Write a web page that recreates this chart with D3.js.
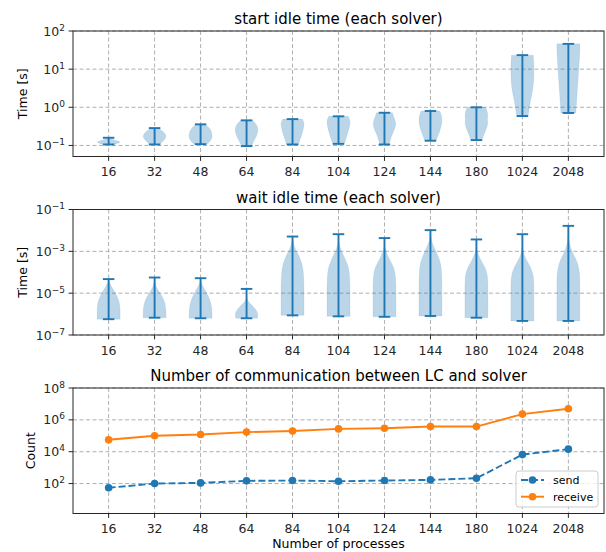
<!DOCTYPE html>
<meta charset="utf-8">
<style>
body { margin: 0; background: #fff; }
svg { display: block; font-family: "DejaVu Sans", sans-serif; }
.grid line { stroke: #b0b0b0; stroke-width: 1; stroke-dasharray: 4,2.5; }
.spine { fill: none; stroke: #262626; stroke-width: 1; }
.tick { stroke: #262626; stroke-width: 1; }
.violin { fill: #1f77b4; fill-opacity: 0.3; stroke: #1f77b4; stroke-opacity: 0.15; stroke-width: 0.6; }
.vline { stroke: #1f77b4; stroke-width: 1.9; fill: none; }
</style>
<svg width="606" height="552"></svg>
<script src="https://cdn.jsdelivr.net/npm/d3@7"></script>
<script>

var categories = ["16", "32", "48", "64", "84", "104", "124", "144", "180", "1024", "2048"];

// start idle time: extremes and violin half-width profile (bottom -> top, log spaced)
var startMin = [0.106, 0.106, 0.108, 0.096, 0.106, 0.11, 0.106, 0.133, 0.138, 0.59, 0.71];
var startMax = [0.159, 0.285, 0.357, 0.455, 0.49, 0.58, 0.72, 0.80, 1.0, 23.3, 46];
var startShape = [
  [0.3, 0.7, 0.95, 1.0, 0.85, 0.6, 0.4, 0.2, 0.05],
  [0.45, 0.6, 0.8, 0.95, 1.0, 0.95, 0.8, 0.6, 0.35],
  [0.55, 0.8, 0.95, 1.0, 1.0, 0.95, 0.85, 0.65, 0.4],
  [0.45, 0.55, 0.7, 0.85, 0.95, 1.0, 0.95, 0.8, 0.5],
  [0.55, 0.6, 0.7, 0.8, 0.88, 0.95, 1.0, 1.0, 0.85],
  [0.5, 0.6, 0.7, 0.8, 0.88, 0.95, 1.0, 1.0, 0.85],
  [0.4, 0.5, 0.6, 0.75, 0.9, 1.0, 0.95, 0.8, 0.7],
  [0.5, 0.6, 0.75, 0.85, 0.95, 1.0, 1.0, 0.95, 0.8],
  [0.5, 0.6, 0.75, 0.9, 1.0, 0.95, 1.0, 0.95, 0.8],
  [0.5, 0.6, 0.7, 0.85, 0.95, 1.0, 1.0, 1.0, 0.95],
  [0.65, 0.7, 0.75, 0.8, 0.85, 0.9, 0.95, 1.0, 1.0]
];

// wait idle time
var waitMin = [5.7e-7, 6.7e-7, 6.3e-7, 6.3e-7, 8.7e-7, 7.8e-7, 7.4e-7, 8.1e-7, 6.7e-7, 4.7e-7, 4.7e-7];
var waitMax = [4.7e-5, 5.6e-5, 5.2e-5, 1.6e-5, 5.1e-3, 6.6e-3, 4.3e-3, 1.03e-2, 3.7e-3, 6.6e-3, 1.65e-2];
var waitShape = [
  [1, 1, 1, 0.97, 0.85, 0.65, 0.4, 0.1, 0],
  [1, 1, 0.97, 0.9, 0.7, 0.45, 0.15, 0.03, 0],
  [1, 1, 0.98, 0.9, 0.75, 0.55, 0.3, 0.05, 0],
  [0.95, 1, 0.9, 0.65, 0.3, 0.05, 0, 0, 0],
  [1, 1, 1, 1, 0.97, 0.9, 0.6, 0.1, 0],
  [1, 1, 1, 1, 0.97, 0.85, 0.4, 0.02, 0],
  [1, 1, 1, 1, 0.98, 0.85, 0.35, 0, 0],
  [1, 1, 1, 1, 0.98, 0.9, 0.5, 0.05, 0],
  [1, 1, 1, 1, 1, 0.85, 0.3, 0, 0],
  [1, 1, 1, 1, 1, 0.75, 0.1, 0, 0],
  [1, 1, 1, 1, 1, 0.8, 0.2, 0, 0]
];

// communication counts
var sendCount = [54, 100, 110, 148, 155, 140, 155, 170, 215, 6600, 14500];
var receiveCount = [5.6e4, 1.0e5, 1.2e5, 1.7e5, 2.0e5, 2.7e5, 3.0e5, 3.8e5, 3.8e5, 2.3e6, 5.0e6];

var startTicks = [1e-1, 1e0, 1e1, 1e2];
var waitTicks = [1e-7, 1e-5, 1e-3, 1e-1];
var countTicks = [1e2, 1e4, 1e6, 1e8];

var svg = d3.select("svg");
var left = 73, right = 604, ph = 125.5;

var x = d3.scaleLinear()
    .domain([0.225, 11.775])
    .range([left, right]);

var pos = categories.map(function(d, i) { return i + 1; });

function panel(top, domain, ticks, title, ylabel, labelX) {
  var y = d3.scaleLog().domain(domain).range([top + ph, top]);
  var g = svg.append("g");

  var grid = g.append("g").attr("class", "grid");
  grid.selectAll(".gx").data(pos).enter().append("line")
      .attr("x1", function(d) { return x(d); }).attr("x2", function(d) { return x(d); })
      .attr("y1", top).attr("y2", top + ph);
  grid.selectAll(".gy").data(ticks).enter().append("line")
      .attr("x1", left).attr("x2", right)
      .attr("y1", function(d) { return y(d); }).attr("y2", function(d) { return y(d); });

  // x ticks
  g.selectAll(".xt").data(pos).enter().append("line")
      .attr("class", "tick")
      .attr("x1", function(d) { return x(d); }).attr("x2", function(d) { return x(d); })
      .attr("y1", top + ph).attr("y2", top + ph + 4.4);
  g.selectAll(".xl").data(categories).enter().append("text")
      .attr("x", function(d, i) { return x(i + 1); })
      .attr("y", top + ph + 19.5)
      .attr("text-anchor", "middle")
      .style("font-size", "12.5px")
      .style("fill", "#262626")
      .text(function(d) { return d; });

  // y ticks
  g.selectAll(".yt").data(ticks).enter().append("line")
      .attr("class", "tick")
      .attr("x1", left - 4.4).attr("x2", left)
      .attr("y1", function(d) { return y(d); }).attr("y2", function(d) { return y(d); });
  var yl = g.selectAll(".yl").data(ticks).enter().append("text")
      .attr("x", left - 8)
      .attr("y", function(d) { return y(d) + 4.5; })
      .attr("text-anchor", "end")
      .style("font-size", "12.5px")
      .style("fill", "#262626");
  yl.append("tspan").text("10");
  yl.append("tspan")
      .attr("dy", -5)
      .style("font-size", "9px")
      .text(function(d) {
        var e = Math.round(Math.log10(d));
        return e < 0 ? "\u2212" + (-e) : "" + e;
      });

  g.append("text")
      .attr("x", (left + right) / 2)
      .attr("y", top - 7)
      .attr("text-anchor", "middle")
      .style("font-size", "15px")
      .text(title);

  g.append("text")
      .attr("transform", "translate(" + labelX + "," + (top + ph / 2) + ") rotate(-90)")
      .attr("text-anchor", "middle")
      .style("font-size", "12.5px")
      .text(ylabel);

  return { g: g, y: y, top: top };
}

function spine(p) {
  p.g.append("rect")
      .attr("class", "spine")
      .attr("x", left).attr("y", p.top)
      .attr("width", right - left).attr("height", ph);
}

function violins(p, mins, maxs, shapes) {
  var half = x(0.25) - x(0);
  var area = d3.area()
      .curve(d3.curveBasis)
      .y(function(d) { return p.y(d.v); })
      .x0(function(d) { return d.cx - d.w * half; })
      .x1(function(d) { return d.cx + d.w * half; });

  shapes.forEach(function(s, i) {
    var cx = x(i + 1);
    var lo = Math.log10(mins[i]), hi = Math.log10(maxs[i]);
    var pts = s.map(function(w, k) {
      return { cx: cx, w: w, v: Math.pow(10, lo + (hi - lo) * k / (s.length - 1)) };
    });
    p.g.append("path").attr("class", "violin").attr("d", area(pts));
    var capW = x(0.125) - x(0);
    p.g.append("line").attr("class", "vline")
        .attr("x1", cx).attr("x2", cx)
        .attr("y1", p.y(mins[i])).attr("y2", p.y(maxs[i]));
    [mins[i], maxs[i]].forEach(function(v) {
      p.g.append("line").attr("class", "vline")
          .attr("x1", cx - capW).attr("x2", cx + capW)
          .attr("y1", p.y(v)).attr("y2", p.y(v));
    });
  });
}

var p1 = panel(31, [Math.pow(10, -1.29), 100], startTicks, "start idle time (each solver)", "Time [s]", 27);
violins(p1, startMin, startMax, startShape);
spine(p1);

var p2 = panel(209.5, [1e-7, 1e-1], waitTicks, "wait idle time (each solver)", "Time [s]", 27);
violins(p2, waitMin, waitMax, waitShape);
spine(p2);

var p3 = panel(388, [Math.pow(10, 0.12), 1e8], countTicks, "Number of communication between LC and solver", "Count", 35);

var series = [
  { name: "send", values: sendCount, color: "#1f77b4", dash: "7,3" },
  { name: "receive", values: receiveCount, color: "#ff7f0e", dash: null }
];

var line = d3.line()
    .x(function(d, i) { return x(i + 1); })
    .y(function(d) { return p3.y(d); });

series.forEach(function(s) {
  p3.g.append("path")
      .attr("d", line(s.values))
      .style("fill", "none")
      .style("stroke", s.color)
      .style("stroke-width", 1.9)
      .style("stroke-dasharray", s.dash);
  p3.g.selectAll(null).data(s.values).enter().append("circle")
      .attr("cx", function(d, i) { return x(i + 1); })
      .attr("cy", function(d) { return p3.y(d); })
      .attr("r", 3.8)
      .style("fill", s.color);
});
spine(p3);

// legend
var lg = svg.append("g").attr("transform", "translate(516,471)");
lg.append("rect")
    .attr("width", 82).attr("height", 36).attr("rx", 3)
    .style("fill", "#fff").style("fill-opacity", 0.8)
    .style("stroke", "#cccccc");
series.forEach(function(s, i) {
  var yy = 9 + i * 16.7;
  lg.append("line")
      .attr("x1", 5).attr("x2", 28).attr("y1", yy).attr("y2", yy)
      .style("stroke", s.color).style("stroke-width", 1.9)
      .style("stroke-dasharray", s.dash);
  lg.append("circle").attr("cx", 16.5).attr("cy", yy).attr("r", 3.8).style("fill", s.color);
  lg.append("text")
      .attr("x", 37).attr("y", yy + 4)
      .style("font-size", "11px")
      .text(s.name);
});

svg.append("text")
    .attr("x", (left + right) / 2)
    .attr("y", 548)
    .attr("text-anchor", "middle")
    .style("font-size", "12.5px")
    .text("Number of processes");

</script>
